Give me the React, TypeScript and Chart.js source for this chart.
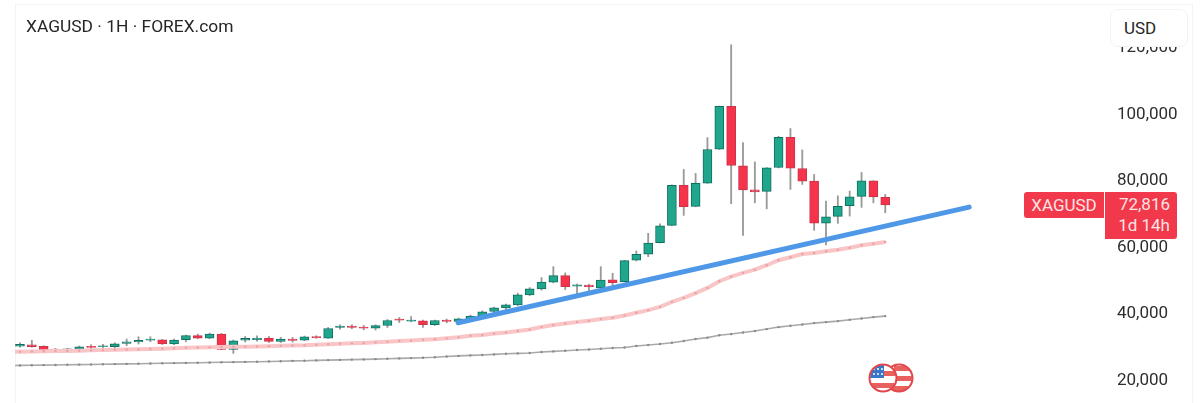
import React, { useEffect, useRef } from "react";
import { Chart, registerables } from "chart.js";

Chart.register(...registerables);

const opens = [30350,30800,30290,29510,29300,29390,30290,30200,30200,31190,31610,32210,32300,31010,32300,33590,32810,34010,29390,32210,32300,32810,31790,32510,32210,33290,32810,35990,36410,36110,35810,36590,38510,37910,38000,36800,38210,37790,38600,39500,40790,41900,42800,45800,47600,49610,51590,48410,48710,47900,50300,49790,56210,58010,61490,66710,78710,72410,79400,89600,102500,84590,77390,76910,84110,93200,83810,80000,67400,69410,72590,75410,80090,75110];
const closes = [30950,30200,29300,29210,29600,30200,29990,30500,31100,31700,32090,32510,31010,32210,33590,32810,34010,29390,32000,32690,32810,31790,32510,32090,33200,32900,35690,36410,35990,35810,36590,38090,38210,38210,36800,38090,37790,38600,39410,40700,41900,42800,45800,47600,49610,51590,48290,48800,48290,50210,49490,56090,58010,61400,66590,78710,72290,79310,89510,102500,84710,77390,76790,83990,93200,83900,80000,67400,69290,72410,75290,80090,75290,72816];
const highs = [31400,32150,30500,29690,29690,30410,30800,30890,31400,32510,33200,33200,32390,32510,33710,34010,34310,34190,32210,33290,33500,33290,33010,33010,33410,33500,35990,36800,36800,36590,36800,38390,38990,39290,38210,38210,38510,38810,39710,41000,42110,43010,46310,47990,51010,54290,52400,49010,49010,54290,52310,56210,59000,64310,67190,78890,83510,82310,93110,102590,121010,91610,85790,84110,93500,95810,89390,82010,74000,75590,77000,82610,80090,76010];
const lows = [30050,30050,28550,28700,28610,28790,28790,29510,29300,30500,31010,31700,30890,30800,31700,32600,32600,29300,28190,31610,31910,31490,31490,31610,32000,32690,32690,35510,35600,35300,35210,35990,37490,37700,35990,36590,37400,37010,38210,38900,40310,40790,42590,45590,47210,49400,47390,45800,46790,47600,48500,49700,56000,57290,61400,66590,69710,72290,79310,89510,73190,63710,73490,71690,83990,77510,79010,65210,60800,67310,69500,72110,73490,70490];

// moving averages start one bar before the first candle
const redAverage = [28640,28700,28760,28820,28880,28940,29000,29120,29180,29300,29360,29420,29510,29630,29750,29900,29960,30020,30110,30170,30230,30290,30380,30470,30590,30650,30800,30980,31100,31220,31340,31520,31700,31910,32090,32300,32480,32720,33020,33500,33710,34190,34490,34910,35390,36110,36710,37190,37610,38000,38510,38900,39590,40400,41210,42200,43700,44900,46310,47900,49910,51290,52400,53390,54710,56210,57110,58100,58400,58910,59390,59990,60710,61190,61700];
const grayAverage = [24530,24590,24620,24680,24710,24770,24830,24860,24920,24980,25040,25100,25160,25220,25280,25340,25400,25460,25520,25580,25640,25700,25760,25850,25940,26000,26090,26180,26240,26330,26390,26480,26570,26690,26780,26900,27020,27260,27440,27590,27710,27890,28100,28190,28310,28610,28790,29000,29210,29390,29600,29810,29990,30410,30710,31010,31400,31910,32510,32930,33650,34010,34490,34910,35510,36110,36500,36890,37310,37610,37910,38300,38690,39110,39410];

const trendX = [36.96, 80.08];
const trendY = [37400, 72200];
const yTicks = [20000, 40000, 60000, 80000, 100000, 120000];

const UP = "#1fa68c";
const UP_EDGE = "#0f6f5e";
const DOWN = "#f5334a";
const DOWN_EDGE = "#c9344a";

const font = "Roboto, sans-serif";

export default function App() {
  const ref = useRef<HTMLCanvasElement | null>(null);
  useEffect(() => {
    if (!ref.current) return;
    const isUp = opens.map((o, i) => closes[i] >= o);
    const chart = new Chart(ref.current, {
      type: "bar",
      data: {
        datasets: [
          {
            type: "line",
            data: trendX.map((x, i) => ({ x, y: trendY[i] })),
            borderColor: "#4f98e8",
            borderWidth: 5,
            borderCapStyle: "round",
            pointRadius: 0,
            order: 1,
          },
          {
            type: "line",
            data: redAverage.map((y, i) => ({ x: i - 1, y })),
            borderColor: "#f9c6c8",
            borderWidth: 4,
            pointRadius: 1.2,
            pointBackgroundColor: "#eda0a4",
            pointBorderWidth: 0,
            order: 3,
          },
          {
            type: "line",
            data: grayAverage.map((y, i) => ({ x: i - 1, y })),
            borderColor: "#a9a9a9",
            borderWidth: 1.6,
            pointRadius: 1.2,
            pointBackgroundColor: "#8a8a8a",
            pointBorderWidth: 0,
            order: 3,
          },
          {
            type: "bar",
            data: lows.map((l, i) => ({ x: i, y: [l, highs[i]] })),
            backgroundColor: "#9a9a9a",
            barThickness: 1.2,
            grouped: false,
            order: 6,
          },
          {
            type: "bar",
            data: opens.map((o, i) => ({ x: i, y: [o, closes[i]] })),
            backgroundColor: isUp.map((u) => (u ? UP : DOWN)),
            borderColor: isUp.map((u) => (u ? UP_EDGE : DOWN_EDGE)),
            borderWidth: 1,
            borderSkipped: false,
            barThickness: 9,
            grouped: false,
            order: 5,
          },
        ],
      } as any,
      options: {
        animation: false,
        responsive: false,
        layout: { padding: { left: 15, right: 0, top: 0, bottom: 0 } },
        plugins: { legend: { display: false }, tooltip: { enabled: false } },
        scales: {
          x: {
            type: "linear",
            display: false,
            offset: false,
            min: -0.42,
            max: 91.54,
          },
          y: {
            type: "linear",
            position: "right",
            min: 14480,
            max: 133280,
            grid: { display: false, drawTicks: false },
            border: { display: false },
            afterBuildTicks: (s: any) => {
              s.ticks = yTicks.map((value) => ({ value }));
            },
            afterFit: (s: any) => {
              s.width = 95;
              s.paddingTop = 0;
              s.paddingBottom = 0;
            },
            ticks: {
              padding: 12,
              color: "#2e2e2e",
              font: { family: font, size: 17 },
              autoSkip: false,
              callback: (v: any) => Number(v).toLocaleString("en-US"),
            },
          },
        },
      } as any,
    });
    return () => chart.destroy();
  }, []);

  const tag = { position: "absolute", background: "#f2384b", color: "#fde4e4", fontSize: 17, lineHeight: "21px", boxSizing: "border-box" } as React.CSSProperties;

  return (
    <div style={{ position: "fixed", left: 0, top: 0, width: 1200, height: 403, background: "#fff", overflow: "hidden", fontFamily: font }}>
      <div style={{ position: "absolute", left: 15, top: 4, width: 1178, height: 420, boxSizing: "border-box", border: "1px solid #f3f3f3" }} />
      <canvas ref={ref} width={1200} height={403} style={{ position: "absolute", left: 0, top: 0, width: 1200, height: 403, filter: "blur(0.4px)" }} />
      <div style={{ position: "absolute", left: 26, top: 16, fontSize: 17.4, lineHeight: "20px", color: "#262626", whiteSpace: "nowrap" }}>XAGUSD · 1H · FOREX.com</div>
      <div style={{ position: "absolute", left: 1110, top: 9, width: 78, height: 38, boxSizing: "border-box", background: "#fff", border: "1px solid #f3f3f3", borderRadius: 8, paddingLeft: 13, lineHeight: "36px", fontSize: 17, color: "#262626" }}>USD</div>
      <div style={{ ...tag, left: 1024, top: 192, width: 80, height: 26, borderRadius: "3px 0 0 3px", lineHeight: "26px", textAlign: "center" }}>XAGUSD</div>
      <div style={{ ...tag, left: 1105, top: 192, width: 72, height: 47, borderRadius: "0 3px 3px 0", paddingTop: 2, paddingRight: 7, textAlign: "right" }}>
        <div>72,816</div>
        <div>1d 14h</div>
      </div>
      <svg style={{ position: "absolute", left: 866, top: 361 }} width={50} height={34} viewBox="0 0 50 34">
        <defs>
          <clipPath id="back"><circle cx={33} cy={17} r={13} /></clipPath>
          <clipPath id="front"><circle cx={17} cy={17} r={13} /></clipPath>
        </defs>
        <g clipPath="url(#back)">
          <rect x={15} y={0} width={35} height={34} fill="#fff" />
          <rect x={28} y={5} width={20} height={5} fill="#e8615f" />
          <rect x={28} y={15} width={20} height={5} fill="#e8615f" />
          <rect x={24} y={25} width={20} height={5} fill="#e8615f" />
        </g>
        <circle cx={33} cy={17} r={13.5} fill="none" stroke="#e2474b" strokeWidth={2} />
        <g clipPath="url(#front)">
          <rect x={0} y={0} width={34} height={34} fill="#fff" />
          <rect x={4} y={3} width={14} height={14} fill="#3a76c9" />
          <rect x={18} y={10} width={14} height={5} fill="#e8615f" />
          <rect x={4} y={22} width={28} height={5} fill="#e8615f" />
          <circle cx={8} cy={8} r={1} fill="#fff" />
          <circle cx={12} cy={8} r={1} fill="#fff" />
          <circle cx={16} cy={8} r={1} fill="#fff" />
          <circle cx={8} cy={13} r={1} fill="#fff" />
          <circle cx={12} cy={13} r={1} fill="#fff" />
          <circle cx={16} cy={13} r={1} fill="#fff" />
        </g>
        <circle cx={17} cy={17} r={13.5} fill="#0000" stroke="#e2474b" strokeWidth={2} />
      </svg>
    </div>
  );
}
